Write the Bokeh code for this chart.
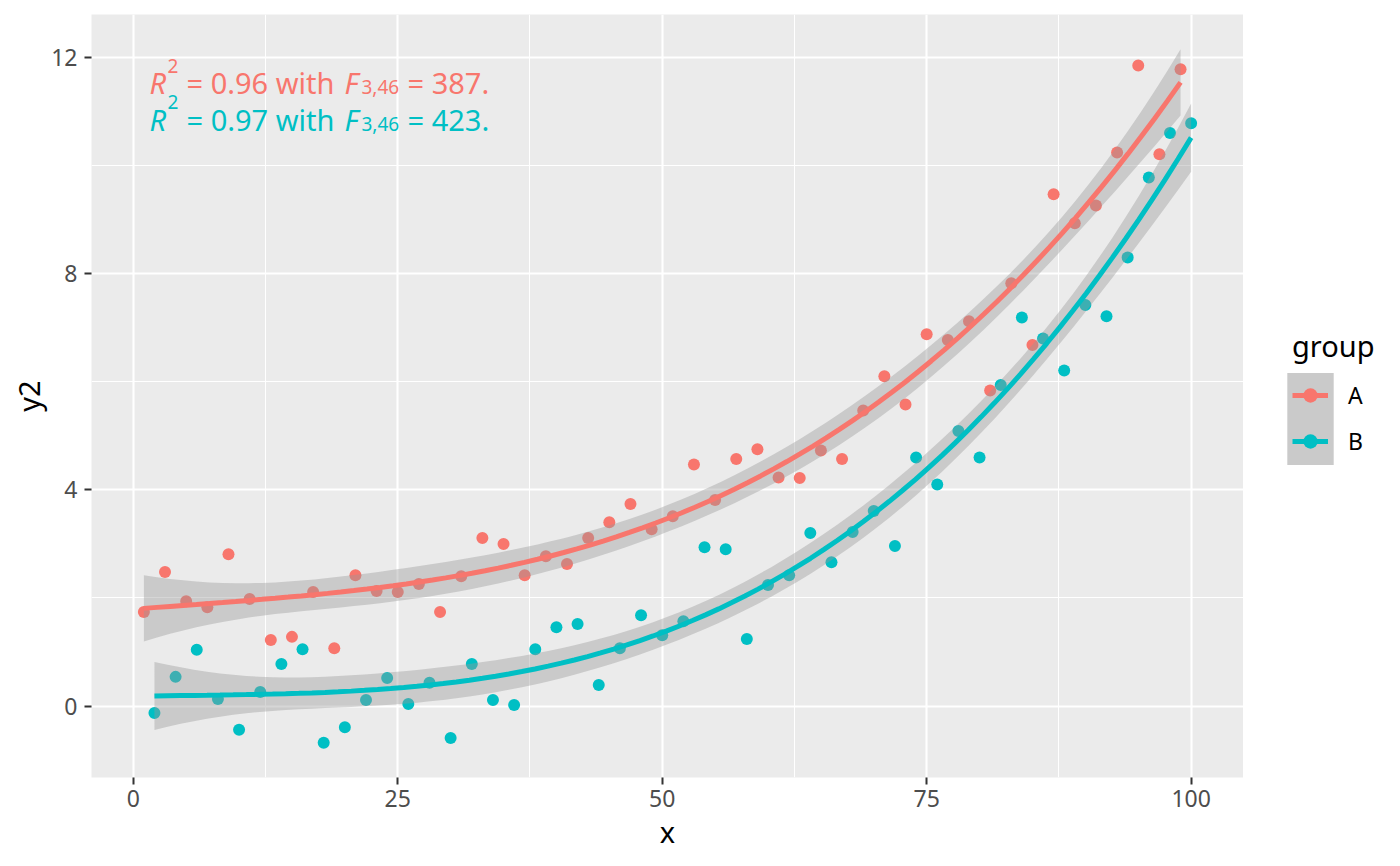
import numpy as np
from bokeh.plotting import figure
from bokeh.layouts import row
from bokeh.models import ColumnDataSource, FixedTicker, Legend, LegendItem, Range1d
from bokeh.core.properties import value
from bokeh.embed import file_html
from bokeh.resources import INLINE

# ---------------- data ----------------
group_labels = ["A", "B"]
group_colors = ["#F8766D", "#00BFC4"]

x_a = list(range(1, 100, 2))
y_a = [1.74, 2.48, 1.94, 1.83, 2.81, 1.98, 1.22, 1.28, 2.11, 1.07,
       2.42, 2.13, 2.11, 2.26, 1.74, 2.40, 3.11, 3.00, 2.42, 2.77,
       2.63, 3.11, 3.40, 3.74, 3.27, 3.51, 4.47, 3.81, 4.57, 4.75,
       4.23, 4.22, 4.73, 4.57, 5.47, 6.10, 5.58, 6.88, 6.77, 7.12,
       5.84, 7.82, 6.68, 9.47, 8.93, 9.26, 10.24, 11.85, 10.21, 11.78]

x_b = list(range(2, 101, 2))
y_b = [-0.13, 0.54, 1.04, 0.13, -0.44, 0.26, 0.78, 1.05, -0.68, -0.39,
       0.11, 0.52, 0.04, 0.43, -0.59, 0.78, 0.11, 0.02, 1.05, 1.46,
       1.52, 0.39, 1.07, 1.68, 1.31, 1.57, 2.94, 2.90, 1.24, 2.24,
       2.42, 3.20, 2.66, 3.22, 3.61, 2.96, 4.60, 4.10, 5.09, 4.60,
       5.94, 7.19, 6.80, 6.21, 7.42, 7.21, 8.30, 9.78, 10.60, 10.78]

x_ticks = [0, 25, 50, 75, 100]
x_minor = [12.5, 37.5, 62.5, 87.5]
y_ticks = [0, 4, 8, 12]
y_minor = [2, 6, 10]

annot_r2 = ["0.96", "0.97"]
annot_f = ["387.", "423."]
annot_df = "3,46"

FONT = "Noto Sans"

# layout (pixels)
W, H = 1400, 866
BL, BT, BB = 91, 14, 89
W_MAIN = 1243
W_LEG = W - W_MAIN
LW = 5


def cubic_fit(x, y, n=80, t=2.0129):
    x = np.asarray(x, float)
    y = np.asarray(y, float)
    m, s = x.mean(), x.std()
    X = np.vander((x - m) / s, 4)
    beta, *_ = np.linalg.lstsq(X, y, rcond=None)
    resid = y - X @ beta
    s2 = resid @ resid / (len(x) - 4)
    XtXi = np.linalg.inv(X.T @ X)
    xg = np.linspace(x.min(), x.max(), n)
    Zg = np.vander((xg - m) / s, 4)
    yg = Zg @ beta
    se = np.sqrt(s2 * np.einsum("ij,jk,ik->i", Zg, XtXi, Zg))
    return xg, yg, yg - t * se, yg + t * se


groups = [(x_a, y_a), (x_b, y_b)]
fits = [cubic_fit(x, y) for x, y in groups]

all_lo = min(min(y_a), min(y_b), *(f[2].min() for f in fits))
all_hi = max(max(y_a), max(y_b), *(f[3].max() for f in fits))
yr = all_hi - all_lo
xmin, xmax = min(x_a + x_b), max(x_a + x_b)
xr = xmax - xmin

p = figure(width=W_MAIN, height=H, output_backend="svg", toolbar_location=None,
           x_range=Range1d(xmin - 0.05 * xr, xmax + 0.05 * xr),
           y_range=Range1d(all_lo - 0.05 * yr, all_hi + 0.05 * yr),
           min_border_left=BL, min_border_right=0, min_border_top=BT,
           min_border_bottom=BB, x_axis_label="x", y_axis_label="y2")

p.background_fill_color = "#EBEBEB"
p.border_fill_color = "white"
p.outline_line_color = None

p.xaxis.ticker = FixedTicker(ticks=x_ticks, minor_ticks=x_minor)
p.yaxis.ticker = FixedTicker(ticks=y_ticks, minor_ticks=y_minor)
p.xgrid.ticker = FixedTicker(ticks=x_ticks, minor_ticks=x_minor)
p.ygrid.ticker = FixedTicker(ticks=y_ticks, minor_ticks=y_minor)

for ax in (p.xaxis[0], p.yaxis[0]):
    ax.axis_line_color = None
    ax.major_tick_line_color = "#333333"
    ax.major_tick_line_width = 2
    ax.major_tick_out = 7
    ax.major_tick_in = 0
    ax.minor_tick_line_color = None
    ax.major_label_text_font = FONT
    ax.major_label_text_font_size = "23px"
    ax.major_label_text_color = "#4D4D4D"
    ax.axis_label_text_font = FONT
    ax.axis_label_text_font_size = "29px"
    ax.axis_label_text_font_style = "normal"
    ax.axis_label_text_color = "black"
p.xaxis.major_label_standoff = 5
p.yaxis.major_label_standoff = 7
p.xaxis.axis_label_standoff = 2
p.yaxis.axis_label_standoff = 0

for g in (p.xgrid[0], p.ygrid[0]):
    g.grid_line_color = "white"
    g.grid_line_width = 2.1
    g.minor_grid_line_color = "white"
    g.minor_grid_line_width = 1.05

# points
for (x, y), col in zip(groups, group_colors):
    p.scatter(x, y, size=12, fill_color=col, line_color=None)

# smooths
for (xg, yg, lo, hi), col in zip(fits, group_colors):
    p.varea(x=xg, y1=lo, y2=hi, fill_color="#999999", fill_alpha=0.4)
    p.line(xg, yg, line_color=col, line_width=LW)

# annotation (plotmath-like pieces)
x0 = p.x_range.start
y0 = p.y_range.end
rows = dict(x=[], y=[], text=[], xo=[], yo=[], fs=[], st=[], col=[])
for i, (r2, fv, col) in enumerate(zip(annot_r2, annot_f, group_colors)):
    b = 67.7 + 36.8 * i
    pieces = [("R", 58, b, "29px", "italic"),
              ("2", 76, b - 16.7, "19px", "normal"),
              ("= " + r2 + " with", 95, b, "29px", "normal"),
              ("F", 253, b, "29px", "italic"),
              (annot_df, 270, b + 5, "19px", "normal"),
              ("= " + fv, 316, b, "29px", "normal")]
    for t, xo, yo, fs, st in pieces:
        rows["x"].append(x0); rows["y"].append(y0)
        rows["text"].append(t); rows["xo"].append(xo); rows["yo"].append(yo)
        rows["fs"].append(fs); rows["st"].append(st); rows["col"].append(col)
src = ColumnDataSource(rows)
p.text(x="x", y="y", text="text", x_offset="xo", y_offset="yo",
       text_font=value(FONT), text_font_size="fs", text_font_style="st",
       text_color="col", text_align="left", text_baseline="alphabetic", source=src)

# ---------------- legend panel ----------------
q = figure(width=W_LEG, height=H, output_backend="svg", toolbar_location=None,
           x_axis_type=None, y_axis_type=None, min_border=0)
q.outline_line_color = None
q.background_fill_color = "white"
q.border_fill_color = "white"
q.xgrid.visible = False
q.ygrid.visible = False

# invisible proxies (only their legend swatches are drawn)
key_bg = q.quad(left=[x_a[0]], right=[x_a[0]], top=[y_a[0]], bottom=[y_a[0]],
                fill_color="#CACACA", fill_alpha=1.0, line_color=None, visible=False)
proxies = []
for (x, y), col in zip(groups, group_colors):
    ln = q.line(x=x[:2], y=y[:2], line_color=col, line_width=LW, visible=False)
    pt = q.scatter(x=x[:1], y=y[:1], size=12, fill_color=col, line_color=None, visible=False)
    proxies.append((ln, pt))

KEY_LEFT = 44            # key box left, from legend-panel frame left
KEY_BOTTOM = 313         # key box bottom, from frame bottom
KEY = 46

legend_bg = Legend(
    items=[LegendItem(label=" ", renderers=[key_bg])],
    location=(KEY_LEFT - 6, KEY_BOTTOM - 11.5),
    orientation="vertical",
    glyph_width=58, glyph_height=115, label_height=10,
    label_width=0, label_standoff=0, spacing=0, padding=0, margin=0,
    label_text_font_size="1px", border_line_color=None, background_fill_alpha=0,
)
q.add_layout(legend_bg, "center")

G = 36
inset = (KEY - G) // 2
legend = Legend(
    items=[LegendItem(label=lab, renderers=[ln, pt])
           for lab, (ln, pt) in zip(group_labels, proxies)],
    title="group", location=(KEY_LEFT + inset, KEY_BOTTOM + inset),
    orientation="vertical",
    glyph_width=G, glyph_height=G, label_height=G, spacing=KEY - G,
    padding=0, margin=0, label_standoff=20, title_standoff=12,
    label_text_font=FONT, label_text_font_size="23px", label_text_color="black",
    title_text_font=FONT, title_text_font_size="29px", title_text_font_style="normal",
    title_text_color="black", border_line_color=None, background_fill_alpha=0,
)
q.add_layout(legend, "center")

layout = row(p, q, spacing=0)
open("out.html", "w").write(file_html(layout, INLINE))
